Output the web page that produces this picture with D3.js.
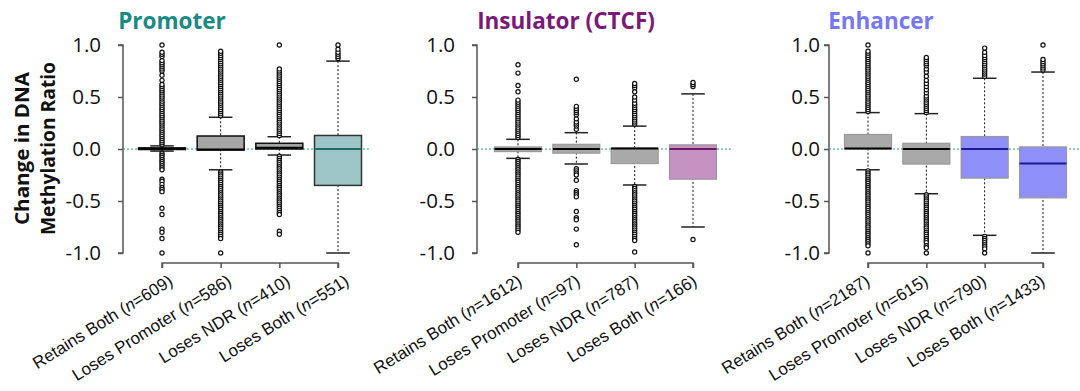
<!DOCTYPE html>
<html>
<head>
<meta charset="utf-8">
<script src="https://cdn.jsdelivr.net/npm/d3@7"></script>
<style>
  body { margin: 0; background: #fff; }
  svg { display: block; }
</style>
</head>
<body>
<div id="chart"></div>
<script>
// ---- data ----
const panelTitles = ['Promoter', 'Insulator (CTCF)', 'Enhancer'];
const categories = ['Retains Both', 'Loses Promoter', 'Loses NDR', 'Loses Both'];
const counts = [
  [609, 586, 410, 551],
  [1612, 97, 787, 166],
  [2187, 615, 790, 1433]
];
const yTicks = [1.0, 0.5, 0.0, -0.5, -1.0];
const yTitleLines = ['Change in DNA', 'Methylation Ratio'];

// [lower whisker, q1, median, q3, upper whisker]
const promoterStats = [
  [-0.02, -0.005, 0.005, 0.01, 0.03],
  [-0.2, -0.01, -0.005, 0.125, 0.305],
  [-0.058, 0.0, 0.012, 0.055, 0.118],
  [-1.0, -0.35, 0.0, 0.13, 0.845]
];
const insulatorStats = [
  [-0.09, -0.025, 0.0, 0.02, 0.093],
  [-0.144, -0.04, 0.0, 0.045, 0.157],
  [-0.346, -0.14, 0.005, 0.01, 0.22],
  [-0.75, -0.29, 0.0, 0.04, 0.53]
];
const enhancerStats = [
  [-0.2, 0.0, 0.005, 0.14, 0.35],
  [-0.43, -0.145, 0.0, 0.055, 0.34],
  [-0.83, -0.28, 0.0, 0.12, 0.68],
  [-1.0, -0.47, -0.14, 0.02, 0.74]
];

const promoterOutliers = [
  [0.04, 0.06, 0.08, 0.10, 0.12, 0.14, 0.16, 0.18, 0.20, 0.22, 0.24, 0.26, 0.28, 0.30, 0.32, 0.34,
   0.36, 0.38, 0.40, 0.42, 0.44, 0.46, 0.48, 0.50, 0.52, 0.54, 0.56, 0.58, 0.60, 0.62, 0.66, 0.71,
   0.75, 0.77, 0.79, 0.81, 0.83, 0.85, 0.89, 0.91, 0.93, 1.0,
   -0.04, -0.06, -0.08, -0.10, -0.12, -0.14, -0.16, -0.18, -0.20, -0.29, -0.31, -0.34, -0.37,
   -0.39, -0.41, -0.57, -0.63, -0.77, -0.80, -0.86, -1.0],
  [0.32, 0.34, 0.36, 0.38, 0.40, 0.42, 0.44, 0.46, 0.48, 0.50, 0.52, 0.54, 0.56, 0.58, 0.60, 0.62,
   0.64, 0.66, 0.68, 0.70, 0.72, 0.74, 0.76, 0.78, 0.80, 0.82, 0.84, 0.86, 0.88, 0.90, 0.92, 0.94,
   -0.22, -0.24, -0.26, -0.28, -0.30, -0.32, -0.34, -0.36, -0.38, -0.40, -0.42, -0.44, -0.46, -0.48,
   -0.50, -0.52, -0.54, -0.56, -0.58, -0.60, -0.62, -0.64, -0.66, -0.68, -0.70, -0.72, -0.74, -0.76,
   -0.78, -0.80, -0.82, -0.84, -0.86, -1.0],
  [0.13, 0.15, 0.17, 0.19, 0.21, 0.23, 0.25, 0.27, 0.29, 0.31, 0.33, 0.35, 0.37, 0.39, 0.41, 0.43,
   0.45, 0.47, 0.49, 0.51, 0.53, 0.55, 0.57, 0.59, 0.61, 0.63, 0.65, 0.67, 0.69, 0.71, 0.73, 0.75,
   0.77, 1.0,
   -0.07, -0.09, -0.11, -0.13, -0.15, -0.17, -0.19, -0.21, -0.23, -0.25, -0.27, -0.29, -0.31, -0.33,
   -0.35, -0.37, -0.39, -0.41, -0.43, -0.45, -0.47, -0.49, -0.51, -0.53, -0.55, -0.57, -0.59, -0.61,
   -0.63, -0.79, -0.82],
  [0.87, 0.89, 0.91, 0.93, 0.96, 1.0]
];
const insulatorOutliers = [
  [0.11, 0.13, 0.15, 0.17, 0.19, 0.21, 0.23, 0.25, 0.27, 0.29, 0.31, 0.33, 0.35, 0.37, 0.39, 0.41,
   0.43, 0.45, 0.47, 0.55, 0.61, 0.73, 0.81,
   -0.10, -0.12, -0.14, -0.16, -0.18, -0.20, -0.22, -0.24, -0.26, -0.28, -0.30, -0.32, -0.34, -0.36,
   -0.38, -0.40, -0.42, -0.44, -0.46, -0.48, -0.50, -0.52, -0.54, -0.56, -0.58, -0.60, -0.62, -0.64,
   -0.66, -0.68, -0.70, -0.72, -0.74, -0.76, -0.78, -0.80],
  [0.19, 0.22, 0.24, 0.26, 0.29, 0.33, 0.35, 0.37, 0.39, 0.41, 0.67,
   -0.19, -0.21, -0.23, -0.25, -0.30, -0.40, -0.42, -0.44, -0.46, -0.60, -0.66, -0.68, -0.77, -0.92],
  [0.24, 0.26, 0.28, 0.30, 0.32, 0.34, 0.36, 0.38, 0.40, 0.42, 0.44, 0.47, 0.50, 0.55, 0.59, 0.61,
   0.63,
   -0.36, -0.38, -0.40, -0.42, -0.44, -0.46, -0.48, -0.50, -0.52, -0.54, -0.56, -0.58, -0.60, -0.62,
   -0.64, -0.66, -0.68, -0.70, -0.72, -0.74, -0.76, -0.78, -0.80, -0.82, -0.84, -0.86, -0.88, -0.99],
  [0.60, 0.62, 0.64, -0.87]
];
const enhancerOutliers = [
  [0.36, 0.38, 0.40, 0.42, 0.44, 0.46, 0.48, 0.50, 0.52, 0.54, 0.56, 0.58, 0.60, 0.62, 0.64, 0.66,
   0.68, 0.70, 0.72, 0.74, 0.76, 0.78, 0.80, 0.82, 0.84, 0.86, 0.88, 0.90, 0.92, 0.94, 1.0,
   -0.21, -0.23, -0.25, -0.27, -0.29, -0.31, -0.33, -0.35, -0.37, -0.39, -0.41, -0.43, -0.45, -0.47,
   -0.49, -0.51, -0.53, -0.55, -0.57, -0.59, -0.61, -0.63, -0.65, -0.67, -0.69, -0.71, -0.73, -0.75,
   -0.77, -0.79, -0.81, -0.83, -0.85, -0.87, -0.89, -0.91, -0.93, -1.0],
  [0.35, 0.37, 0.39, 0.41, 0.43, 0.45, 0.47, 0.49, 0.51, 0.54, 0.57, 0.60, 0.63, 0.66, 0.70, 0.74,
   0.77, 0.80, 0.82, 0.84, 0.86, 0.88,
   -0.44, -0.46, -0.48, -0.50, -0.52, -0.54, -0.56, -0.58, -0.60, -0.62, -0.64, -0.66, -0.68, -0.70,
   -0.72, -0.74, -0.76, -0.78, -0.80, -0.82, -0.84, -0.86, -0.88, -0.90, -0.93, -0.95, -1.0],
  [0.70, 0.72, 0.74, 0.76, 0.78, 0.80, 0.82, 0.84, 0.86, 0.88, 0.90, 0.93, 0.97,
   -0.84, -0.86, -0.88, -0.90, -0.92, -0.94, -0.96, -1.0],
  [0.76, 0.78, 0.80, 0.82, 0.84, 0.86, 1.0]
];

// ---- styling / layout ----
const W = 1080, H = 391;
const yTop = 45, yBot = 253, xAxisY = 263;
const boxW = 47;

const panels = [
  { title: panelTitles[0], titleX: 172, titleColor: '#1a8a85', axisX: 123, first: 162, last: 338,
    gap: 22, zeroEnd: 371, labelDx: 12, stats: promoterStats, outliers: promoterOutliers, n: counts[0],
    fills: ['#a6a6a6', '#a6a6a6', '#a6a6a6', '#9dc5c5'],
    borders: ['#111', '#111', '#111', '#333'],
    medians: ['#000', '#000', '#000', '#1f6d6b'] },
  { title: panelTitles[1], titleX: 566, titleColor: '#7a1a78', axisX: 477, first: 518, last: 693,
    gap: 22, zeroEnd: 731, labelDx: 5, stats: insulatorStats, outliers: insulatorOutliers, n: counts[1],
    fills: ['#a9a9a9', '#a9a9a9', '#a9a9a9', '#c592c1'],
    borders: ['#999', '#999', '#999', '#999'],
    medians: ['#000', '#000', '#000', '#6a1a68'] },
  { title: panelTitles[2], titleX: 881, titleColor: '#7777f2', axisX: 829, first: 868, last: 1043,
    gap: 9, zeroEnd: 1080, labelDx: 3, stats: enhancerStats, outliers: enhancerOutliers, n: counts[2],
    fills: ['#a9a9a9', '#a9a9a9', '#8f8ff8', '#8f8ff8'],
    borders: ['#999', '#999', '#999', '#999'],
    medians: ['#000', '#000', '#1c1c9a', '#1c1c9a'] }
];

const svg = d3.select('#chart').append('svg')
  .attr('width', W)
  .attr('height', H)
  .attr('viewBox', `0 0 ${W} ${H}`);

const y = d3.scaleLinear().domain([-1, 1]).range([yBot, yTop]);

// y axis title, two lines (lengths matched to the figure)
const titleLens = [153, 173];
svg.append('g')
  .attr('transform', 'translate(29,148.5) rotate(-90)')
  .selectAll('text')
  .data(yTitleLines)
  .join('text')
  .attr('x', 0)
  .attr('y', (d, i) => i * 25.5)
  .attr('text-anchor', 'middle')
  .attr('font-family', 'Open Sans, sans-serif')
  .attr('font-weight', 'bold')
  .attr('font-size', '20px')
  .attr('fill', '#111')
  .attr('textLength', (d, i) => titleLens[i])
  .attr('lengthAdjust', 'spacingAndGlyphs')
  .text(d => d);

panels.forEach((p, pi) => {
  const g = svg.append('g').attr('class', `panel panel-${pi}`);
  const x = d3.scalePoint().domain(categories).range([p.first, p.last]);

  g.append('text')
    .attr('x', p.titleX)
    .attr('y', 29)
    .attr('text-anchor', 'middle')
    .attr('font-family', 'Open Sans, sans-serif')
    .attr('font-weight', 'bold')
    .attr('font-size', '22.5px')
    .attr('fill', p.titleColor)
    .text(p.title);

  // y axis
  const yAxis = d3.axisLeft(y).tickValues(yTicks).tickSize(5).tickPadding(p.gap - 5)
    .tickFormat(d => d.toFixed(1));
  const ya = g.append('g').attr('transform', `translate(${p.axisX},0)`).call(yAxis);
  ya.select('.domain').attr('stroke', '#555').attr('stroke-width', 1.5).attr('d', `M-5,${yTop}H0V${yBot}H-5`);
  ya.selectAll('.tick line').attr('stroke', '#555').attr('stroke-width', 1.5);
  ya.selectAll('.tick text')
    .attr('font-family', 'Open Sans, sans-serif')
    .attr('font-size', '20.5px')
    .attr('fill', '#111');

  // zero reference line
  g.append('line')
    .attr('x1', p.axisX).attr('x2', p.zeroEnd)
    .attr('y1', y(0)).attr('y2', y(0))
    .attr('stroke', '#2a9a96')
    .attr('stroke-width', 1)
    .attr('stroke-dasharray', '2,2');

  // x axis
  const xAxis = d3.axisBottom(x).tickSize(5).tickFormat('');
  const xa = g.append('g').attr('transform', `translate(0,${xAxisY})`).call(xAxis);
  xa.select('.domain').attr('stroke', '#555').attr('stroke-width', 1.5)
    .attr('d', `M${p.first},5V0H${p.last}V5`);
  xa.selectAll('.tick line').attr('stroke', '#555').attr('stroke-width', 1.5);

  // category labels
  categories.forEach((c, i) => {
    const t = g.append('text')
      .attr('transform', `translate(${x(c) + p.labelDx},${xAxisY + 21}) rotate(-32)`)
      .attr('text-anchor', 'end')
      .attr('font-family', 'Liberation Sans, Arial, sans-serif')
      .attr('font-size', '17px')
      .attr('fill', '#111');
    t.append('tspan').text(`${c} (`);
    t.append('tspan').attr('font-style', 'italic').text('n');
    t.append('tspan').text(`=${p.n[i]})`);
  });

  // boxes
  const boxes = g.selectAll('g.box')
    .data(p.stats.map((s, i) => ({ s, i, c: categories[i] })))
    .join('g')
    .attr('class', 'box');

  boxes.append('line')
    .attr('x1', d => x(d.c)).attr('x2', d => x(d.c))
    .attr('y1', d => y(d.s[4])).attr('y2', d => y(d.s[0]))
    .attr('stroke', '#111')
    .attr('stroke-width', 1)
    .attr('stroke-dasharray', '2,2');

  boxes.selectAll('line.cap')
    .data(d => [d.s[0], d.s[4]].map(v => ({ v, c: d.c })))
    .join('line')
    .attr('class', 'cap')
    .attr('x1', d => x(d.c) - boxW / 4).attr('x2', d => x(d.c) + boxW / 4)
    .attr('y1', d => y(d.v)).attr('y2', d => y(d.v))
    .attr('stroke', '#222')
    .attr('stroke-width', 1.5);

  boxes.append('rect')
    .attr('x', d => x(d.c) - boxW / 2)
    .attr('width', boxW)
    .attr('y', d => y(d.s[3]))
    .attr('height', d => Math.max(1, y(d.s[1]) - y(d.s[3])))
    .attr('fill', d => p.fills[d.i])
    .attr('stroke', d => p.borders[d.i])
    .attr('stroke-width', d => pi === 0 ? 1.5 : 1.2);

  boxes.append('line')
    .attr('x1', d => x(d.c) - boxW / 2).attr('x2', d => x(d.c) + boxW / 2)
    .attr('y1', d => y(d.s[2])).attr('y2', d => y(d.s[2]))
    .attr('stroke', d => p.medians[d.i])
    .attr('stroke-width', 2);

  // outliers
  boxes.selectAll('circle')
    .data(d => p.outliers[d.i].map(v => ({ v, c: d.c })))
    .join('circle')
    .attr('cx', d => x(d.c))
    .attr('cy', d => y(d.v))
    .attr('r', 2.1)
    .attr('fill', '#fff')
    .attr('stroke', '#111')
    .attr('stroke-width', 1.2);
});
</script>
</body>
</html>
